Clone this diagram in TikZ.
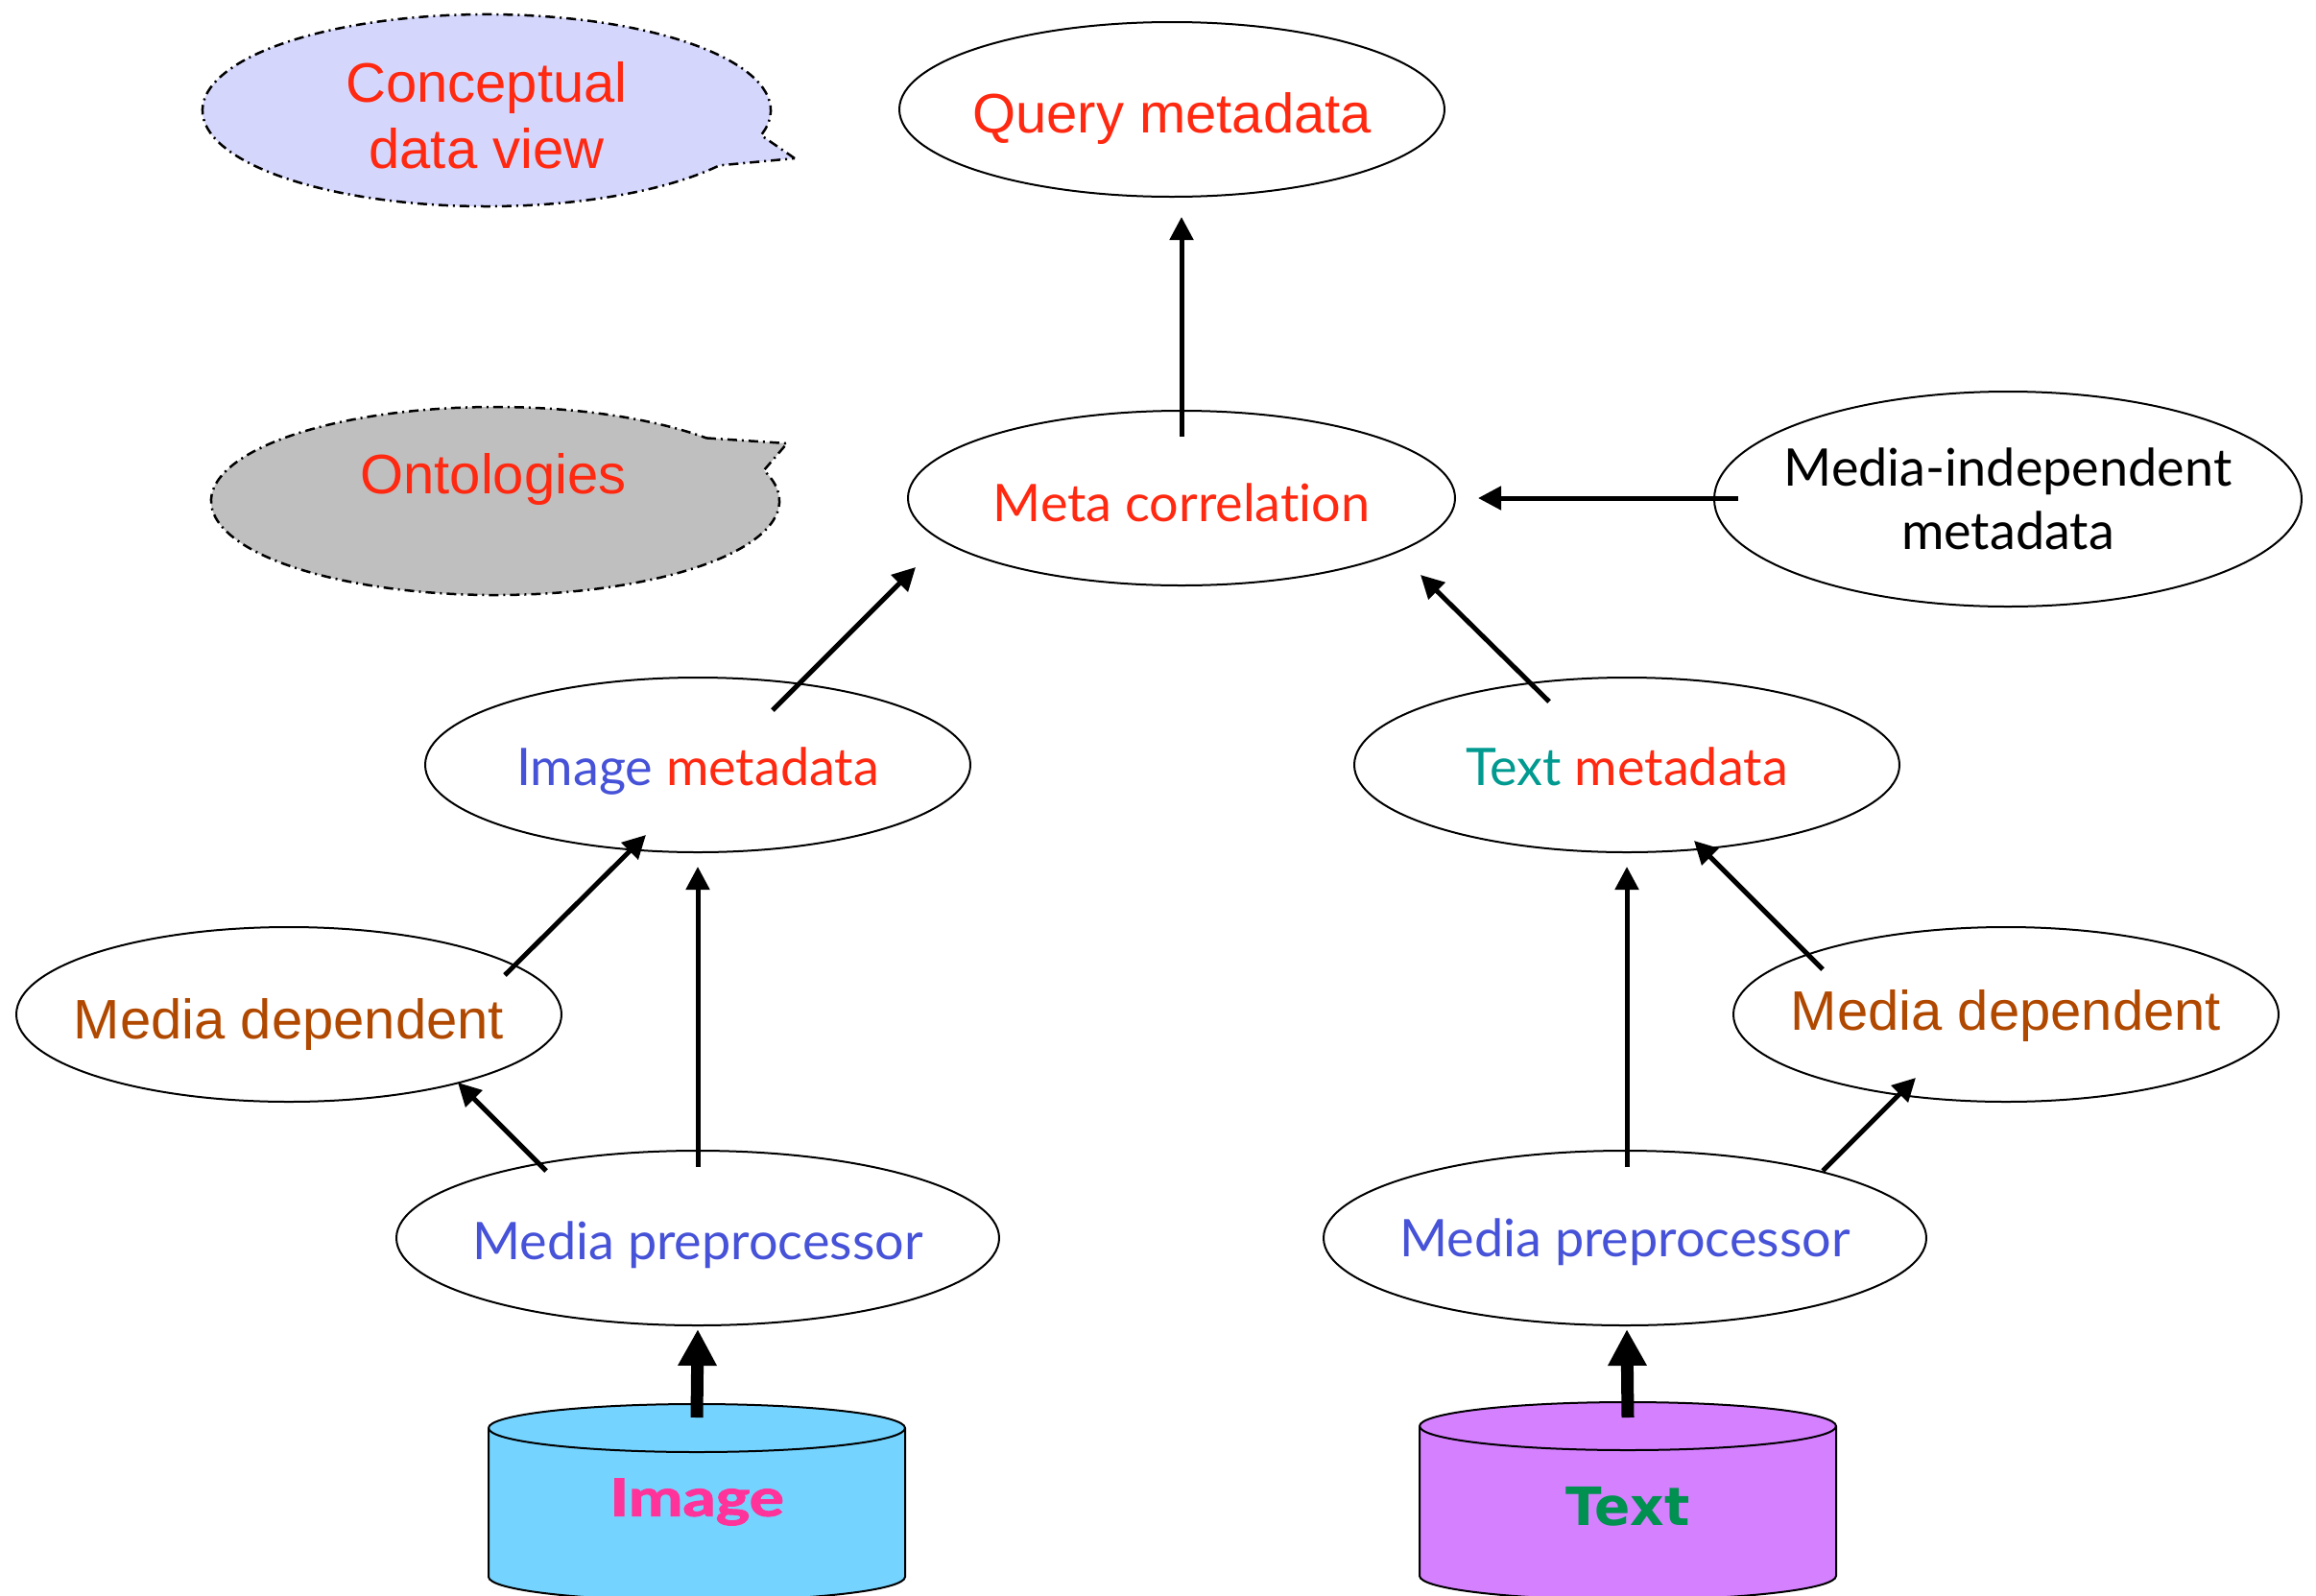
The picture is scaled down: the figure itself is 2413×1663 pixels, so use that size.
\documentclass[tikz,border=0pt]{standalone}
\usepackage{fontspec}
\usetikzlibrary{shapes.geometric,arrows.meta,calc}
\newfontfamily\gillf[Ligatures=NoCommon]{Lato}
\newfontfamily\imgfont[FakeBold=2,BoldFeatures={FakeBold=2}]{Lato}
\newfontfamily\helvf{Liberation Sans}
\newfontfamily\verdf{DejaVu Sans}
\definecolor{cred}{RGB}{255,40,16}
\definecolor{cblue}{RGB}{70,82,216}
\definecolor{cteal}{RGB}{0,154,144}
\definecolor{cbrown}{RGB}{176,72,0}
\definecolor{imgfill}{RGB}{116,212,255}
\definecolor{txtfill}{RGB}{213,128,255}
\definecolor{cpink}{RGB}{255,51,153}
\definecolor{cgreen}{RGB}{0,144,80}
\definecolor{lav}{RGB}{213,214,251}
\definecolor{cgray}{RGB}{191,191,191}
\newcommand\inel[2][0pt]{\makebox[0pt]{\raisebox{#1}{#2}}}
\tikzset{
  ell/.style={ellipse, draw, line width=2pt, minimum width=568pt, minimum height=182pt, inner sep=0pt, align=center},
  fixt/.style={text height=0pt, text depth=0pt},
  gtext/.style={font=\gillf\fontsize{54}{66}\selectfont},
  htext/.style={font=\helvf\fontsize{58}{69}\selectfont},
  arr/.style={line width=5pt, -{Triangle[length=24pt,width=24pt]}},
  bigarr/.style={line width=13pt, -{Triangle[length=38pt,width=38pt]}},
  callout/.style={draw, line width=2.5pt, dash pattern=on 10pt off 5pt on 2pt off 5pt},
  dbside/.style={draw, line width=2pt}
}
\begin{document}
\begin{tikzpicture}[x=1pt,y=-1pt]
\useasboundingbox[fill=white] (0,0) rectangle (2413,1663);

% callouts
\filldraw[callout, fill=lav]
  (828,165) -- ($(507,115)+(15:296 and 100)$)
  arc[start angle=15, end angle=-325, x radius=296, y radius=100] -- cycle;
\node[htext, text=cred, align=center] (concept) at (507,120) {Conceptual\\data view};

\filldraw[callout, fill=cgray]
  ($(516,522)+(-42:296 and 98)$) -- (820,462) -- ($(516,522)+(-19:296 and 98)$)
  arc[start angle=-19, end angle=318, x radius=296, y radius=98] -- cycle;
\node[htext, text=cred] (onto) at (514,499) {Ontologies};

% ellipses
\node[ell, fixt, htext, text=cred] (query) at (1221,114) {\inel[-24pt]{Query metadata}};
\node[ell, fixt, minimum width=570pt, gtext, text=cred] (meta) at (1231,519) {\inel[-24pt]{Meta correlation}};
\node[ell, minimum width=612pt, minimum height=224pt, gtext] (indep) at (2092,520) {\inel{Media-independent}\\\inel{metadata}};
\node[ell, fixt, gtext] (imgmeta) at (727,797) {\inel[-21pt]{\textcolor{cblue}{Image} \textcolor{cred}{metadata}}};
\node[ell, fixt, gtext] (txtmeta) at (1695,797) {\inel[-21pt]{\textcolor{cteal}{Text} \textcolor{cred}{metadata}}};
\node[ell, fixt, htext, text=cbrown] (depL) at (301,1057) {\inel[-25pt]{Media dependent}};
\node[ell, fixt, htext, text=cbrown] (depR) at (2090,1057) {\inel[-16pt]{Media dependent}};
\node[ell, fixt, minimum width=628pt, gtext, text=cblue] (preL) at (727,1290) {\inel[-22pt]{Media preprocessor}};
\node[ell, fixt, minimum width=628pt, gtext, text=cblue] (preR) at (1693,1290) {\inel[-19pt]{Media preprocessor}};

% cylinders
\filldraw[dbside, fill=imgfill] (509,1488) -- (509,1643)
  arc[start angle=180, end angle=0, x radius=217, y radius=25] -- (943,1488)
  arc[start angle=0, end angle=-180, x radius=217, y radius=25] -- cycle;
\draw[dbside] (509,1488) arc[start angle=180, end angle=0, x radius=217, y radius=25];
\node[font=\imgfont\bfseries\fontsize{54}{60}\selectfont, text=cpink] (imgdb) at (726,1565) {\scalebox{1.25}[1]{Image}};

\filldraw[dbside, fill=txtfill] (1479,1486) -- (1479,1642)
  arc[start angle=180, end angle=0, x radius=217, y radius=25] -- (1913,1486)
  arc[start angle=0, end angle=-180, x radius=217, y radius=25] -- cycle;
\draw[dbside] (1479,1486) arc[start angle=180, end angle=0, x radius=217, y radius=25];
\node[font=\verdf\bfseries\fontsize{55}{60}\selectfont, text=cgreen] (txtdb) at (1696,1570) {Text};

% connectors
\draw[arr] ($(meta)+(0,-64)$) -- ($(query)+(10,112)$);
\draw[arr] ($(indep)+(-281,-1)$) -- ($(meta)+(309,0)$);
\draw[arr] ($(imgmeta)+(78,-57)$) -- ($(meta)+(-277,72)$);
\draw[arr] ($(txtmeta)+(-81,-66)$) -- ($(meta)+(249,80)$);
\draw[arr] ($(depL)+(225,-41)$) -- ($(imgmeta)+(-54,73)$);
\draw[arr] ($(preL)+(0,-74)$) -- ($(imgmeta)+(0,106)$);
\draw[arr] ($(preL)+(-158,-70)$) -- ($(depL)+(176,71)$);
\draw[arr] ($(preR)+(2,-74)$) -- ($(txtmeta)+(0,106)$);
\draw[arr] ($(depR)+(-191,-47)$) -- ($(txtmeta)+(70,79)$);
\draw[arr] ($(preR)+(206,-70)$) -- ($(depR)+(-94,66)$);
\draw[bigarr] ($(imgdb)+(0,-88)$) -- ($(preL)+(0,95)$);
\draw[bigarr] ($(txtdb)+(0,-93)$) -- ($(preR)+(2,95)$);
\end{tikzpicture}
\end{document}
